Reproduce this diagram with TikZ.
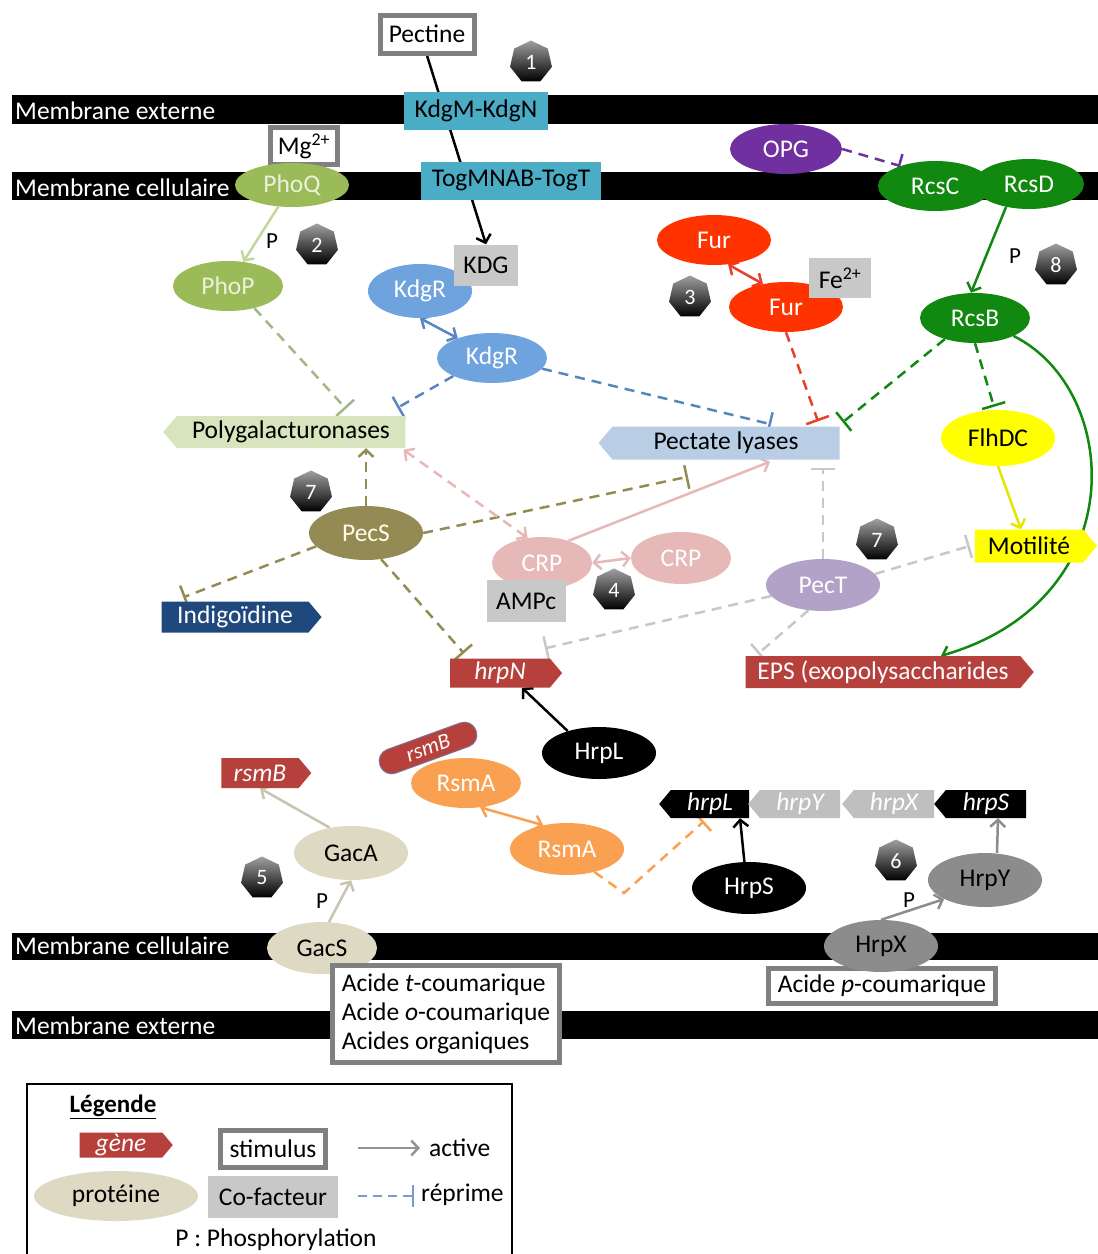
\documentclass[tikz,border=0pt]{standalone}
\usepackage{fontspec}
\setmainfont{Carlito}
\usetikzlibrary{shapes.geometric,shapes.symbols,arrows.meta}
\pgfdeclarelayer{bg}\pgfdeclarelayer{conn}
\pgfsetlayers{bg,conn,main}
\definecolor{cyanbox}{HTML}{4BACC6}
\definecolor{phog}{HTML}{9BBB59}
\definecolor{phoarrow}{HTML}{C3D69B}
\definecolor{phtext}{HTML}{EBF1DD}
\definecolor{kdgblue}{HTML}{6FA3DE}
\definecolor{kdgdash}{HTML}{5A86C0}
\definecolor{plyfill}{HTML}{B9CDE5}
\definecolor{pgalfill}{HTML}{D7E4BD}
\definecolor{furred}{HTML}{FF3300}
\definecolor{furdash}{HTML}{E8402A}
\definecolor{cofgray}{HTML}{C8C8C8}
\definecolor{stimgray}{HTML}{808080}
\definecolor{opgpurple}{HTML}{7030A0}
\definecolor{rcsgreen}{HTML}{11880F}
\definecolor{flhyellow}{HTML}{FFFF00}
\definecolor{pecsolive}{HTML}{948A54}
\definecolor{indigoblue}{HTML}{1F497D}
\definecolor{crppink}{HTML}{E6B9B8}
\definecolor{pectlav}{HTML}{B3A2C7}
\definecolor{pectdash}{HTML}{C8C8C8}
\definecolor{genered}{HTML}{B5403C}
\definecolor{gacbeige}{HTML}{DDD9C3}
\definecolor{gacarrow}{HTML}{C8C4B0}
\definecolor{rsmorange}{HTML}{F9A151}
\definecolor{hrpgray}{HTML}{BFBFBF}
\definecolor{hrpdark}{HTML}{8C8C8C}
\definecolor{legblue}{HTML}{7A9CD3}
\begin{document}
\begin{tikzpicture}[x=1pt,y=-1pt,
  font=\fontsize{25.5}{29}\selectfont,
  prot/.style={ellipse, inner sep=0pt, minimum width=114pt, minimum height=52pt},
  stim/.style={draw=stimgray, line width=5pt, fill=white, inner sep=0pt},
  cof/.style={fill=cofgray, inner sep=0pt},
  tbox/.style={fill=cyanbox, inner sep=0pt, minimum height=38pt},
  gener/.style={signal, signal to=east, signal pointer angle=100, inner sep=0pt},
  genel/.style={signal, signal to=west, signal pointer angle=100, inner sep=0pt},
  badge/.style={regular polygon, regular polygon sides=7, minimum size=43pt, inner sep=0pt,
     top color=gray!75, bottom color=black, text=white, font=\fontsize{22}{24}\selectfont},
  memtext/.style={text=white, anchor=west, inner sep=0pt},
  act/.style={line width=2.5pt, -{Straight Barb[length=7pt,width=15pt]}},
  dbl/.style={line width=2.5pt, {Straight Barb[length=7pt,width=15pt]}-{Straight Barb[length=7pt,width=15pt]}},
  rep/.style={line width=2.5pt, dash pattern=on 10pt off 7pt, -{Bar[width=24pt]}},
  dashact/.style={line width=2.5pt, dash pattern=on 10pt off 7pt, -{Straight Barb[length=7pt,width=15pt]}},
  dashdbl/.style={line width=2.5pt, dash pattern=on 10pt off 7pt, {Straight Barb[length=7pt,width=15pt]}-{Straight Barb[length=7pt,width=15pt]}},
  plab/.style={inner sep=0pt, font=\fontsize{23}{25}\selectfont}
]
\useasboundingbox (0,0) rectangle (1098,1254);

% membranes
\begin{pgfonlayer}{bg}
\fill[white] (0,0) rectangle (1098,1254);
\fill[black] (12,95) rectangle (1098,124);
\fill[black] (12,172) rectangle (1098,200);
\fill[black] (12,933) rectangle (1098,960);
\fill[black] (12,1011) rectangle (1098,1039);
\end{pgfonlayer}
\node[memtext] (m1) at (15,111) {Membrane externe};
\node[memtext] (m2) at (15,188) {Membrane cellulaire};
\node[memtext] (m3) at (15,946) {Membrane cellulaire};
\node[memtext] (m4) at (15,1026) {Membrane externe};

% top
\node[stim, minimum width=94pt, minimum height=38pt] (pectine) at (427,34) {Pectine};
\node[tbox, minimum width=144pt] (kdgm) at (476,111) {KdgM-KdgN};
\node[tbox, minimum width=180pt] (togm) at (511,181) {TogMNAB-TogT};
\node[stim, minimum width=67pt, minimum height=37pt] (mg) at (304,146) {Mg\textsuperscript{2+}};
\node[prot, fill=phog, text=phtext, minimum width=114pt, minimum height=44pt] (phoq) at (292,185) {PhoQ};
\node[prot, fill=phog, text=phtext, minimum width=110pt, minimum height=50pt] (phop) at (228,286) {PhoP};
\node[prot, fill=kdgblue, text=white, minimum width=104pt, minimum height=54pt] (kdgr1) at (420,291) {KdgR};
\node[cof, minimum width=64pt, minimum height=41pt] (kdg) at (486,265) {KDG};
\node[prot, fill=kdgblue, text=white, minimum width=110pt, minimum height=50pt] (kdgr2) at (492,358) {KdgR};
\node[prot, fill=furred, text=white, minimum height=50pt] (fur1) at (714,240) {Fur};
\node[prot, fill=furred, text=white, minimum height=50pt] (fur2) at (786,307) {Fur};
\node[cof, minimum width=62pt, minimum height=40pt] (fe) at (840,278) {Fe\textsuperscript{2+}};
\node[prot, fill=opgpurple, text=white, minimum width=112pt, minimum height=50pt] (opg) at (786,149) {OPG};
\node[prot, fill=rcsgreen, text=white, minimum height=50pt] (rcsc) at (935,186) {RcsC};
\node[prot, fill=rcsgreen, text=white, minimum width=110pt, minimum height=50pt] (rcsd) at (1029,184) {RcsD};
\node[prot, fill=rcsgreen, text=white, minimum width=110pt, minimum height=50pt] (rcsb) at (975,318) {RcsB};
\node[prot, fill=flhyellow, text=black, minimum height=56pt] (flhdc) at (998,438) {FlhDC};
\node[gener, fill=flhyellow, minimum width=122pt, minimum height=33pt] (motilite) at (1029,546) {Motilité};
\node[genel, fill=plyfill, minimum width=241pt, minimum height=33pt] (plyase) at (726,443) {Pectate lyases};
\node[genel, fill=pgalfill, minimum width=242pt, minimum height=32pt] (pgal) at (291,432) {Polygalacturonases};

% middle
\node[prot, fill=pecsolive, text=white!92!yellow, minimum height=54pt] (pecs) at (366,533) {PecS};
\node[gener, fill=indigoblue, text=white, minimum width=160pt, minimum height=31pt] (indigo) at (235,617) {Indigoïdine};
\node[prot, fill=crppink, text=white, minimum width=100pt, minimum height=52pt] (crp1) at (542,563) {CRP};
\node[prot, fill=crppink, text=white, minimum width=100pt, minimum height=52pt] (crp2) at (681,558) {CRP};
\node[cof, minimum width=79pt, minimum height=42pt] (ampc) at (526,601) {AMPc};
\node[prot, fill=pectlav, text=white] (pect) at (823,585) {PecT};
\node[gener, fill=genered, text=white, minimum width=288pt, minimum height=32pt] (eps) at (883,672) {EPS (exopolysaccharides};
\node[gener, fill=genered, text=white, minimum width=112pt, minimum height=29pt] (hrpn) at (500,673) {\itshape hrpN};
\node[prot, fill=black, text=white] (hrplp) at (599,753) {HrpL};

% lower
\node[gener, fill=genered, text=white, minimum width=90pt, minimum height=30pt] (rsmbg) at (260,773) {\itshape rsmB};
\node[prot, fill=gacbeige, text=black, minimum height=54pt] (gaca) at (351,853) {GacA};
\node[prot, fill=gacbeige, text=black, minimum width=110pt] (gacs) at (322,948) {GacS};
\node[prot, fill=rsmorange, text=white, minimum width=110pt, minimum height=50pt] (rsma1) at (466,783) {RsmA};
\node[rectangle, rounded corners=12pt, rotate=20, fill=genered, draw=pectlav!70!black, line width=1pt, text=white, minimum width=102pt, minimum height=25pt, inner sep=0pt, font=\fontsize{22}{24}\selectfont\itshape] (rsmbr) at (428,748) {rsmB};
\node[prot, fill=rsmorange, text=white] (rsma2) at (567,849) {RsmA};
\node[genel, fill=black, text=white, minimum width=90pt, minimum height=28pt] (hrplg) at (710,804) {\itshape hrpL};
\node[genel, fill=hrpgray, text=white, minimum width=92pt, minimum height=28pt] (hrpyg) at (800,804) {\itshape hrpY};
\node[genel, fill=hrpgray, text=white, minimum width=92pt, minimum height=28pt] (hrpxg) at (894,804) {\itshape hrpX};
\node[genel, fill=black, text=white, minimum width=92pt, minimum height=28pt] (hrpsg) at (986,804) {\itshape hrpS};
\node[prot, fill=black, text=white] (hrps) at (749,888) {HrpS};
\node[prot, fill=hrpdark, text=black, minimum height=54pt] (hrpy) at (985,880) {HrpY};
\node[stim, minimum width=227pt, minimum height=97pt, align=left] (acidt) at (446,1014) {Acide \textit{t}-coumarique\\Acide \textit{o}-coumarique\\Acides organiques};
\node[stim, minimum width=227pt, minimum height=35pt] (acidp) at (882,986) {Acide \textit{p}-coumarique};
\node[prot, fill=hrpdark, text=black] (hrpx) at (881,946) {HrpX};

% badges
\node[badge] (b1) at (531,62) {1};
\node[badge] (b2) at (317,245) {2};
\node[badge] (b3) at (690,297) {3};
\node[badge] (b4) at (614,590) {4};
\node[badge] (b5) at (262,878) {5};
\node[badge] (b6) at (896,861) {6};
\node[badge] (b7a) at (311,492) {7};
\node[badge] (b7b) at (877,540) {7};
\node[badge] (b8) at (1056,265) {8};

% P labels
\node[plab] (p1) at (272,241) {P};
\node[plab] (p2) at (1015,256) {P};
\node[plab] (p3) at (322,901) {P};
\node[plab] (p4) at (909,900) {P};

% connectors
\begin{pgfonlayer}{conn}
\draw[act, black] (pectine.south) -- (kdg.north);
\draw[act, phoarrow] (phoq) -- (phop);
\draw[dbl, kdgdash] (kdgr1.south) -- (kdgr2.150);
\draw[dbl, furdash] (fur1.300) -- (fur2.135);
\draw[rep, opgpurple] (opg.east) -- (rcsc.150);
\draw[act, rcsgreen] (rcsd.225) -- ([xshift=-4pt]rcsb.north);
\draw[rep, rcsgreen] (rcsb.215) -- ([xshift=3pt,yshift=4pt]plyase.north east);
\draw[rep, rcsgreen] (rcsb.south) -- ([xshift=-4pt,yshift=3pt]flhdc.north);
\draw[act, flhyellow!90!black] (flhdc.south) -- ([xshift=-8pt]motilite.north);
\draw[act, rcsgreen] (rcsb.-25) .. controls (1122,390) and (1134,600) .. ([xshift=58pt]eps.north);
\draw[rep, furdash] (fur2.south) -- ([xshift=92pt,yshift=5pt]plyase.north);
\draw[rep, kdgdash] (kdgr2.-12) -- ([xshift=45pt,yshift=2pt]plyase.north);
\draw[rep, kdgdash] (kdgr2.205) -- ([xshift=-8pt,yshift=8pt]pgal.north east);
\draw[rep, phoarrow!85!black] (phop.-40) -- ([xshift=55pt,yshift=7pt]pgal.north);
\draw[dashact, pecsolive] (pecs.north) -- ([xshift=75pt]pgal.south);
\draw[rep, pecsolive] (pecs.east) -- ([xshift=-38pt,yshift=-17pt]plyase.south);
\draw[rep, pecsolive] (pecs.195) -- ([xshift=22pt,yshift=4pt]indigo.north west);
\draw[rep, pecsolive] (pecs.-60) -- ([xshift=14pt,yshift=5pt]hrpn.north west);
\draw[act, crppink] (crp1.40) -- ([xshift=44pt,yshift=-2pt]plyase.south);
\draw[dashdbl, crppink] (crp1.120) -- ([xshift=-2pt,yshift=-2pt]pgal.south east);
\draw[dbl, crppink] (crp1.east) -- (crp2.west);
\draw[rep, pectdash] (pect.north) -- ([xshift=97pt,yshift=-8pt]plyase.south);
\draw[rep, pectdash] (pect.12) -- ([xshift=-5pt]motilite.west);
\draw[rep, pectdash] (pect.192) -- ([xshift=45pt,yshift=10pt]hrpn.north);
\draw[rep, pectdash] (pect.240) -- ([xshift=-125pt,yshift=2pt]eps.north);
\draw[act, black] (hrplp.145) -- ([xshift=22pt]hrpn.south);
\draw[act, gacarrow] (gaca.130) -- (rsmbg.south);
\draw[act, gacarrow] (gacs.75) -- (gaca.south);
\draw[dbl, rsmorange] (rsma1.-60) -- (rsma2.135);
\coordinate (kink) at (624,893);
\draw[line width=2.5pt, dash pattern=on 10pt off 7pt, rsmorange, -{Bar[width=24pt]}] (rsma2.-40) -- (kink) -- ([xshift=-6pt,yshift=-3pt]hrplg.south);
\draw[act, black] (hrps.100) -- ([xshift=30pt]hrplg.south);
\draw[act, hrpdark] ([xshift=12pt]hrpy.north) -- ([xshift=12pt]hrpsg.south);
\draw[act, hrpdark] (hrpx.north) -- (hrpy.205);
\end{pgfonlayer}

% legend
\draw[line width=1.5pt] (27,1254) -- (27,1084) -- (512,1084) -- (512,1254);
\node[inner sep=0pt, font=\fontsize{25}{28}\selectfont\bfseries] (legt) at (113,1107) {\underline{Légende}};
\node[gener, fill=genered, text=white, minimum width=93pt, minimum height=25pt] (lgene) at (121,1145) {\itshape gène};
\node[stim, minimum width=105pt, minimum height=37pt] (lstim) at (273,1149) {stimulus};
\node[prot, fill=gacbeige, text=black, minimum width=164pt, minimum height=50pt] (lprot) at (116,1196) {protéine};
\node[cof, minimum width=130pt, minimum height=42pt] (lcof) at (273,1197) {Co-facteur};
\coordinate (la1) at (358,1148);
\coordinate (la2) at (420,1148);
\draw[act, gray!85] (la1) -- (la2);
\node[anchor=west, inner sep=0pt] (lact) at (429,1148) {active};
\coordinate (lr1) at (358,1196);
\coordinate (lr2) at (414,1196);
\draw[line width=2.5pt, dash pattern=on 9pt off 6pt, legblue, -{Bar[width=22pt]}] (lr1) -- (lr2);
\node[anchor=west, inner sep=0pt] (lrep) at (421,1195) {réprime};
\node[inner sep=0pt] (lphos) at (276,1240) {P : Phosphorylation};
\end{tikzpicture}
\end{document}
